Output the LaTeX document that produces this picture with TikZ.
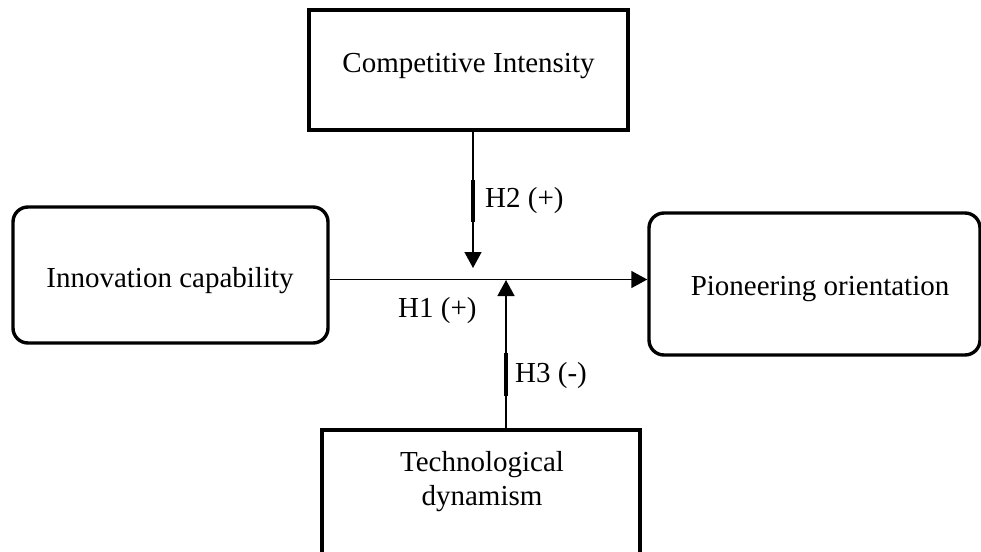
\documentclass[tikz,border=0pt]{standalone}
\usepackage{fontspec}
\setmainfont{Liberation Serif}
\usetikzlibrary{arrows.meta}
\begin{document}
\begin{tikzpicture}[x=1pt,y=-1pt,
  every node/.style={font=\fontsize{29}{34}\selectfont},
  sqbox/.style={draw, line width=3.4pt, inner sep=0pt},
  rbox/.style={draw, line width=3.4pt, rounded corners=15pt, inner sep=0pt},
  conn/.style={line width=1.4pt},
  arr/.style={conn, -{Triangle[length=16pt,width=17pt]}},
  seg/.style={line width=3.6pt},
  txt/.style={inner sep=0pt, align=center}]
\clip (0,0) rectangle (981,551);
% boxes
\node[sqbox, minimum width=319pt, minimum height=120pt] (comp) at (468.5,70) {};
\node[rbox, minimum width=315pt, minimum height=136pt] (inno) at (170.5,275) {};
\node[rbox, minimum width=331pt, minimum height=142pt] (pion) at (814.5,284) {};
\node[sqbox, minimum width=318pt, minimum height=170pt] (tech) at (481,515) {};
% texts
\node[txt, anchor=base] (compt) at (468.5,72) {Competitive Intensity};
\node[txt, anchor=base] (innot) at (170,287) {Innovation capability};
\node[txt, anchor=base] (piont) at (820,295) {Pioneering orientation};
\node[txt, anchor=north] (techt) at (482,451) {Technological\\dynamism};
% connectors
\coordinate (hl) at (0,279.5);
\draw[arr] (inno.east |- hl) -- (pion.west |- hl);
\coordinate (h2tip) at (473,268);
\draw[arr] (comp.south -| h2tip) -- (h2tip);
\coordinate (h3tip) at (506,280);
\draw[arr] (tech.north -| h3tip) -- (h3tip);
\draw[seg] (473,180) -- (473,222);
\draw[seg] (506,353) -- (506,396);
% labels
\node[txt, anchor=base west] (h2) at (485,207) {H2 (+)};
\node[txt, anchor=base west] (h1) at (398,317) {H1 (+)};
\node[txt, anchor=base west] (h3) at (515,382) {H3 (-)};
\end{tikzpicture}
\end{document}
